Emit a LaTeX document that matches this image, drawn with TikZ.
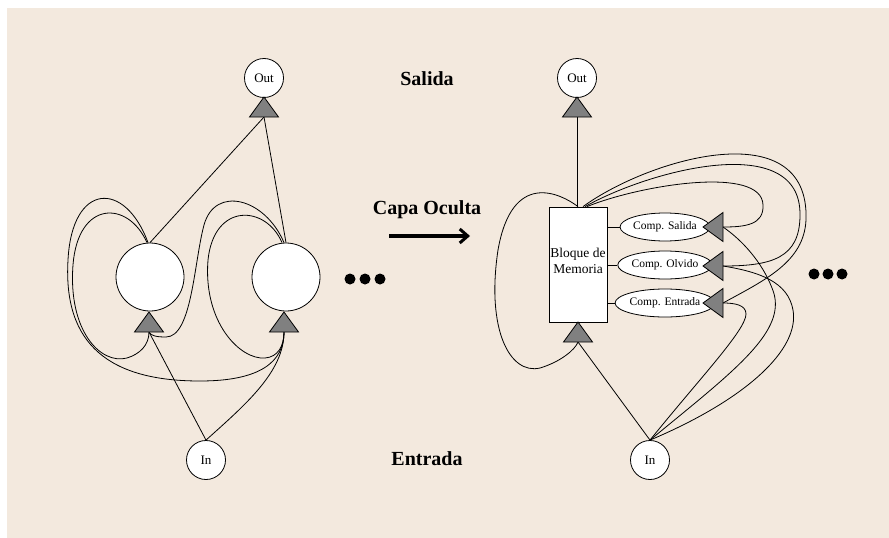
\documentclass[tikz,border=0pt]{standalone}
\usepackage{fontspec}
\setmainfont{Liberation Serif}
\usetikzlibrary{arrows.meta,shapes.geometric}
\definecolor{paper}{RGB}{243,233,222}
\definecolor{gatefill}{RGB}{128,128,128}
\begin{document}
\begin{tikzpicture}[x=1pt,y=-1pt,
  unit/.style={circle,draw,fill=white,line width=0.8pt,inner sep=0pt},
  io/.style={unit,minimum size=39pt,font=\fontsize{13}{14}\selectfont},
  hidden/.style={unit,minimum size=68pt},
  comp/.style={ellipse,draw,fill=white,line width=0.8pt,minimum width=78pt,
    minimum height=28pt,inner sep=0pt,font=\fontsize{11.5}{12}\selectfont},
  block/.style={rectangle,draw,fill=white,line width=0.8pt,minimum width=58pt,
    minimum height=115pt,inner sep=0pt},
  gate/.style={draw,fill=gatefill,line width=0.8pt},
  wire/.style={line width=0.8pt},
  title/.style={font=\bfseries\fontsize{20}{22}\selectfont},
  bigdot/.style={circle,fill=black,minimum size=11pt,inner sep=0pt}]

% background sheet
\useasboundingbox (0,0) rectangle (889,538);
\fill[paper] (7,8) rectangle (889,538);

% ---------- left: simple recurrent layer ----------
\node[io] (outL) at (264,78) {Out};
\node[hidden] (hA) at (150,277) {};
\node[hidden] (hB) at (286,277) {};
\node[io] (inL) at (206,460) {In};

\coordinate (gOutL) at (264,117);
\coordinate (gA) at (149,332);
\coordinate (gB) at (284,332);

% feed-forward connections
\draw[wire] (hA.north) -- (gOutL);
\draw[wire] (hB.north) -- (gOutL);
\draw[wire] (inL.north) -- (gA);
\draw[wire] (inL.north) .. controls (245,405) and (284,372) .. (gB);

% recurrent loops
\draw[wire] ([xshift=-3pt]hA.north) .. controls (128,200) and (78,200) .. (73,265)
  .. controls (68,330) and (100,365) .. (127,358)
  .. controls (140,354) and (149,345) .. (gA);
\draw[wire] ([xshift=-2pt]hA.north) .. controls (125,180) and (72,182) .. (68,260)
  .. controls (63,345) and (110,381) .. (200,381)
  .. controls (260,381) and (284,362) .. (gB);
\draw[wire] ([xshift=-2pt]hB.north) .. controls (265,198) and (215,185) .. (204,225)
  .. controls (194,262) and (192,337) .. (166,337)
  .. controls (157,337) and (151,336) .. (gA);
\draw[wire] ([xshift=-4pt]hB.north) .. controls (266,205) and (214,202) .. (208,260)
  .. controls (203,322) and (240,360) .. (265,358)
  .. controls (278,357) and (284,346) .. (gB);

% gates (drawn over the wires)
\foreach \g in {gOutL,gA,gB}
  \draw[gate] ([xshift=-14.5pt]\g) -- ([yshift=20pt]\g) -- ([xshift=14.5pt]\g) -- cycle;

\foreach \x in {350,365,380} \node[bigdot] at (\x,279) {};

% ---------- centre labels ----------
\node[title] (tSal) at (427,79) {Salida};
\node[title] (tCap) at (427,210) {Capa Oculta};
\node[title] (tEnt) at (427,459) {Entrada};
\coordinate (aS) at (389,236);
\coordinate (aE) at (470,236);
\draw[line width=4pt,-{Straight Barb[length=8pt,width=14pt,line width=3pt]}] (aS) -- (aE);

% ---------- right: memory block layer ----------
\node[io] (outR) at (577,78) {Out};
\node[block] (blk) at (578,264.5) {};
\node[align=center,inner sep=0pt,font=\fontsize{13.5}{16}\selectfont] (blkT) at (578,261) {Bloque de\\Memoria};
\node[comp] (cS) at (665,227) {Comp. Salida};
\node[comp] (cO) at (665,265) {Comp. Olvido};
\node[comp] (cE) at (665,303) {Comp. Entrada};
\node[io] (inR) at (650,460) {In};

\coordinate (gOutR) at (577,117);
\coordinate (gBlk) at (578,342);
\coordinate (gS) at (723,227);
\coordinate (gO) at (723,266);
\coordinate (gE) at (723,303);

\draw[wire] (blk.north -| gOutR) -- (gOutR);
\draw[wire] (blk.east |- cS.west) -- (cS.west);
\draw[wire] (blk.east |- cO.west) -- (cO.west);
\draw[wire] (blk.east |- cE.west) -- (cE.west);
\draw[wire] (inR.north) -- (gBlk);

% recurrent connections of the block
\draw[wire] (blk.north) .. controls (560,193) and (512,170) .. (498,250)
  .. controls (486,330) and (510,375) .. (540,368)
  .. controls (560,362) and (575,350) .. (gBlk);
\draw[wire] ([xshift=9pt]blk.north) .. controls (640,185) and (762,165) .. (763,205)
  .. controls (764,225) and (745,227) .. (gS);
\draw[wire] ([xshift=7pt]blk.north) .. controls (650,170) and (801,130) .. (800,215)
  .. controls (800,258) and (772,266) .. (gO);
\draw[wire] ([xshift=5pt]blk.north) .. controls (650,158) and (810,112) .. (806,220)
  .. controls (804,262) and (765,280) .. (gE);

% input to the gates
\draw[wire] (inR.north) .. controls (700,378) and (746,330) .. (746,314)
  .. controls (746,305) and (735,303) .. (gE);
\draw[wire] (inR.north) .. controls (735,370) and (790,330) .. (772,288)
  .. controls (762,262) and (742,240) .. (gS);
\draw[wire] (inR.north) .. controls (745,400) and (800,350) .. (793,310)
  .. controls (788,282) and (760,272) .. (gO);

\foreach \g in {gBlk,gOutR}
  \draw[gate] ([xshift=-14.5pt]\g) -- ([yshift=20pt]\g) -- ([xshift=14.5pt]\g) -- cycle;
\foreach \g in {gS,gO,gE}
  \draw[gate] ([yshift=14.5pt]\g) -- ([xshift=-20pt]\g) -- ([yshift=-14.5pt]\g) -- cycle;

\foreach \x in {814,828,842} \node[bigdot] at (\x,274) {};
\end{tikzpicture}
\end{document}
